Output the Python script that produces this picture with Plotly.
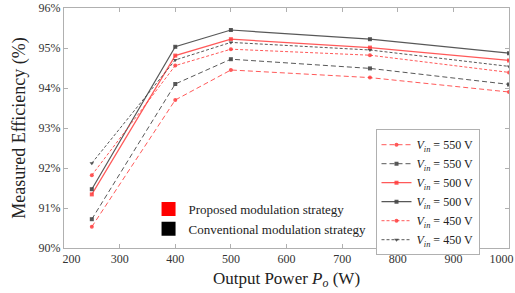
import plotly.graph_objects as go

power = [250, 400, 500, 750, 1000]

conv_450 = [92.12, 94.70, 95.14, 94.95, 94.54]
prop_450 = [91.82, 94.56, 94.97, 94.82, 94.39]
conv_500 = [91.47, 95.03, 95.45, 95.22, 94.87]
prop_500 = [91.34, 94.81, 95.22, 95.01, 94.69]
conv_550 = [90.72, 94.10, 94.72, 94.49, 94.09]
prop_550 = [90.53, 93.70, 94.45, 94.26, 93.90]

x_ticks = [200, 300, 400, 500, 600, 700, 800, 900, 1000]
y_ticks = [90, 91, 92, 93, 94, 95, 96]

NB = "\u00a0"
x_ticktext = [str(t) for t in x_ticks]
x_ticktext[0] = NB * 5 + x_ticktext[0]
x_ticktext[-1] = x_ticktext[-1] + NB * 5

RED = "rgba(255,60,60,0.85)"
BLK = "rgba(70,70,70,0.9)"
FONT = "Liberation Serif"

series = [
    ("550", prop_550, RED, "5px,3px", "circle"),
    ("550", conv_550, BLK, "5px,3px", "square"),
    ("500", prop_500, RED, "solid", "square"),
    ("500", conv_500, BLK, "solid", "square"),
    ("450", prop_450, RED, "3px,2px", "circle"),
    ("450", conv_450, BLK, "3px,2px", "triangle-down"),
]

fig = go.Figure()
for v, ys, col, dash, sym in series:
    fig.add_trace(go.Scatter(
        x=power, y=ys, mode="lines+markers",
        name=f"<i>V</i><sub><i>in</i></sub> = {v} V",
        line=dict(color=col, width=1.2 if dash == "solid" else 1, dash=dash),
        marker=dict(color=col, size=4, symbol=sym),
        legend="legend",
    ))

for name, col in [("Proposed modulation strategy", "#ff0000"),
                  ("Conventional modulation strategy", "#000000")]:
    fig.add_trace(go.Scatter(
        x=[None], y=[None], mode="markers", name=name,
        marker=dict(color=col, size=14, symbol="square"),
        legend="legend2",
    ))

axis_common = dict(
    showgrid=False, zeroline=False, showline=True, linecolor="#b0b0b0",
    linewidth=1, mirror="ticks", ticks="inside", ticklen=4, tickcolor="#b0b0b0",
    tickfont=dict(family=FONT, size=12, color="#333"),
    ticklabeloverflow="allow",
)

fig.update_layout(
    width=515, height=293,
    margin=dict(l=64, r=6, t=8, b=45, autoexpand=False),
    plot_bgcolor="white", paper_bgcolor="white",
    font=dict(family=FONT, color="#222"),
    xaxis=dict(range=[200, 1000], tickvals=x_ticks, ticktext=x_ticktext,
               title=dict(text="Output Power <i>P</i><sub><i>o</i></sub> (W)",
                          font=dict(family=FONT, size=17, color="#222"), standoff=6),
               **axis_common),
    yaxis=dict(range=[90, 96], tickvals=y_ticks,
               ticktext=[f"{t}%" for t in y_ticks],
               title=dict(text="Measured Efficiency (%)",
                          font=dict(family=FONT, size=18, color="#222"), standoff=8),
               **axis_common),
    legend=dict(x=0.70, y=0.495, xanchor="left", yanchor="top",
                bgcolor="white", bordercolor="#b0b0b0", borderwidth=1,
                font=dict(family=FONT, size=12, color="#222"),
                tracegroupgap=0, itemwidth=30),
    legend2=dict(x=0.19, y=0.225, xanchor="left", yanchor="top",
                 bgcolor="rgba(0,0,0,0)", borderwidth=0,
                 font=dict(family=FONT, size=13, color="#222"),
                 itemwidth=30),
)

fig.write_html("out.html", config={"displayModeBar": False},
               post_script="document.body.style.margin='0';document.body.style.overflow='hidden';")
